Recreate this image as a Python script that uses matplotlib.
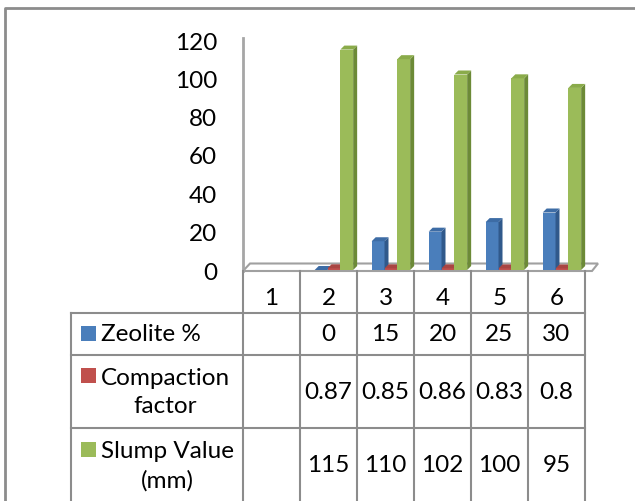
import numpy as np
import matplotlib
matplotlib.use('Agg')
import matplotlib.pyplot as plt
from matplotlib.patches import Polygon, Rectangle

plt.rcParams['font.family'] = ['Lato', 'DejaVu Sans']

categories = ['1', '2', '3', '4', '5', '6']
zeolite = [np.nan, 0, 15, 20, 25, 30]
compaction = [np.nan, 0.87, 0.85, 0.86, 0.83, 0.8]
slump = [np.nan, 115, 110, 102, 100, 95]
series_names = ['Zeolite %', 'Compaction\nfactor', 'Slump Value\n(mm)']
y_ticks = [0, 20, 40, 60, 80, 100, 120]

# front / side / top shades for the 3d columns
front = ['#4a7ebb', '#c0504d', '#9bbb59']
side = ['#30598b', '#8e3a38', '#6c8a37']
top = ['#3d6ca5', '#a94542', '#8aab4a']

FS = 17.5
W, H = 635, 502
fig = plt.figure(figsize=(W / 100, H / 100), dpi=100)

# overlay in pixel units for the frame, floor and data table
ov = fig.add_axes([0, 0, 1, 1], zorder=0)
ov.set_xlim(0, W)
ov.set_ylim(H, 0)
ov.axis('off')

grey = '#8c8c8c'
ov.plot([5, 5, W], [H, 8.5, 8.5], color=grey, lw=2, solid_capstyle='butt')

# chart area: x cells 243..585 px, value 0 at y=271, 120 at y=41
x0, x1 = 243, 585
yb, yt = 271, 41
ax = fig.add_axes([x0 / W, (H - yb) / H, (x1 - x0) / W, (yb - yt) / H], zorder=1)
ax.patch.set_alpha(0)
ax.set_xlim(-0.5, len(categories) - 0.5)
ax.set_ylim(0, 120)
for s in ax.spines.values():
    s.set_visible(False)
ax.set_xticks([])
ax.set_yticks(y_ticks)
ax.tick_params(axis='y', length=0, pad=18.5, labelsize=FS)

# floor
ov.add_patch(Polygon([[243, 272], [592, 272], [598, 264.5], [250, 264.5]],
                     closed=True, facecolor='white', edgecolor='#a0a0a0', lw=1.5))
ov.plot([243, 243], [39, 272], color='#a6a6a6', lw=2)

cell = (x1 - x0) / len(categories)
dx = 4 / cell
dy = 4 / ((yb - yt) / 120)
bw = 0.225
offsets = [-0.13, 0.095, 0.32]
series = [zeolite, compaction, slump]
x = np.arange(len(categories))

for i in range(len(categories)):
    for k, vals in enumerate(series):
        v = vals[i]
        if np.isnan(v):
            continue
        left = x[i] + offsets[k] - bw / 2
        right = left + bw
        ax.bar(x[i] + offsets[k], v, width=bw, color=front[k], zorder=3 + i * 3 + k)
        ax.add_patch(Polygon([[right, 0], [right + dx, dy], [right + dx, v + dy], [right, v]],
                             closed=True, facecolor=side[k], edgecolor='none',
                             zorder=3 + i * 3 + k, clip_on=False))
        ax.add_patch(Polygon([[left, v], [right, v], [right + dx, v + dy], [left + dx, v + dy]],
                             closed=True, facecolor=top[k], edgecolor='none',
                             zorder=3 + i * 3 + k, clip_on=False))

# data table
col_x = [x0 + cell * j for j in range(len(categories) + 1)]
rows = [313.5, 356, 429, 503]
tab_left = 71
for cx in col_x:
    ov.plot([cx, cx], [272, H], color=grey, lw=1.5)
ov.plot([tab_left, tab_left], [rows[0], H], color=grey, lw=1.5)
for ry in rows[:3]:
    ov.plot([tab_left, x1], [ry, ry], color=grey, lw=1.5)

for j, c in enumerate(categories):
    ov.text(col_x[j] + cell / 2, 299, c, ha='center', va='center', fontsize=FS)

first_line = [334.5, 376, 450]
for k, vals in enumerate(series):
    rc = (rows[k] + rows[k + 1]) / 2
    ov.add_patch(Rectangle((80.5, first_line[k] - 7.5), 15, 15, color=front[k], lw=0))
    ov.text(101, rc, series_names[k], ha='left', va='center', ma='center',
            fontsize=FS, linespacing=1.45)
    for j, v in enumerate(vals):
        if np.isnan(v):
            continue
        ov.text(col_x[j] + cell / 2, rc, f'{v:g}', ha='center', va='center', fontsize=FS)

fig.savefig('out.png', dpi=100)
